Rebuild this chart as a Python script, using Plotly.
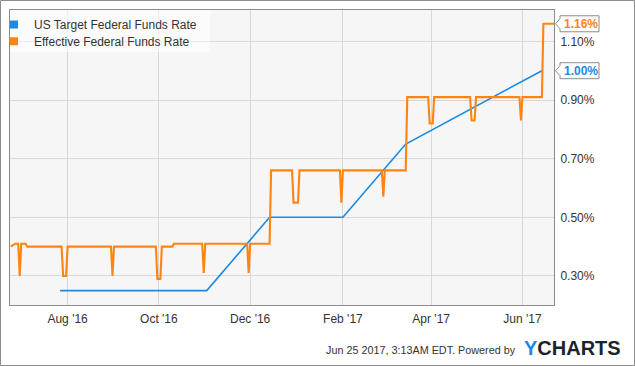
import plotly.graph_objects as go

# ---------------- data ----------------
target_dates = ["2016-07-27", "2016-09-21", "2016-11-02", "2016-12-14",
                "2017-02-01", "2017-03-15", "2017-06-14"]
target_values = [0.25, 0.25, 0.25, 0.50, 0.50, 0.75, 1.00]

effective_dates = [
    "2016-06-24", "2016-06-27", "2016-06-29", "2016-06-30", "2016-07-01",
    "2016-07-04", "2016-07-05", "2016-07-28", "2016-07-29", "2016-07-31",
    "2016-08-01", "2016-08-30", "2016-08-31", "2016-09-01", "2016-09-29",
    "2016-09-30", "2016-10-02", "2016-10-03", "2016-10-10", "2016-10-11",
    "2016-10-30", "2016-10-31", "2016-11-01", "2016-11-29", "2016-11-30",
    "2016-12-01", "2016-12-14", "2016-12-15", "2016-12-29", "2016-12-30",
    "2017-01-02", "2017-01-03", "2017-01-30", "2017-01-31", "2017-02-01",
    "2017-02-27", "2017-02-28", "2017-03-01", "2017-03-15", "2017-03-16",
    "2017-03-30", "2017-03-31", "2017-04-02", "2017-04-03", "2017-04-27",
    "2017-04-28", "2017-04-30", "2017-05-01", "2017-05-30", "2017-05-31",
    "2017-06-01", "2017-06-14", "2017-06-15", "2017-06-22",
]
effective_values = [
    0.40, 0.41, 0.41, 0.30, 0.41,
    0.41, 0.40, 0.40, 0.30, 0.30,
    0.40, 0.40, 0.30, 0.40, 0.40,
    0.29, 0.29, 0.40, 0.40, 0.41,
    0.41, 0.31, 0.41, 0.41, 0.31,
    0.41, 0.41, 0.66, 0.66, 0.55,
    0.55, 0.66, 0.66, 0.55, 0.66,
    0.66, 0.57, 0.66, 0.66, 0.91,
    0.91, 0.82, 0.82, 0.91, 0.91,
    0.83, 0.83, 0.91, 0.91, 0.83,
    0.91, 0.91, 1.16, 1.16,
]

series_names = ["US Target Federal Funds Rate", "Effective Federal Funds Rate"]
series_colors = ["#1a8ae5", "#ff8412"]

x_tick_vals = ["2016-08-01", "2016-10-01", "2016-12-01", "2017-02-01",
               "2017-04-01", "2017-06-01"]
x_tick_text = ["Aug '16", "Oct '16", "Dec '16", "Feb '17", "Apr '17", "Jun '17"]
y_tick_vals = [0.30, 0.50, 0.70, 0.90, 1.10]
y_tick_text = ["0.30%", "0.50%", "0.70%", "0.90%", "1.10%"]

x_range = ["2016-06-23 12:00", "2017-06-22 02:00"]
y_range = [0.201, 1.207]

footer_text = "Jun 25 2017, 3:13AM EDT. Powered by"

# ---------------- figure ----------------
W, H = 635, 366
L, R, T, B = 10, 81, 10, 61
PW, PH = W - L - R, H - T - B

FONT = "Liberation Sans, Arial, sans-serif"
TXT = "#333333"

fig = go.Figure()

fig.add_trace(go.Scatter(
    x=target_dates, y=target_values, mode="lines",
    line=dict(color=series_colors[0], width=1.6),
    showlegend=False, hoverinfo="skip"))
fig.add_trace(go.Scatter(
    x=effective_dates, y=effective_values, mode="lines",
    line=dict(color=series_colors[1], width=2.1),
    showlegend=False, hoverinfo="skip"))

# legend proxies (square swatches)
for i, (nm, col) in enumerate(zip(series_names, series_colors)):
    fig.add_trace(go.Scatter(
        x=[None], y=[None], mode="markers", name=nm,
        marker=dict(symbol="square", size=8, color=col),
        legend="legend" if i == 0 else "legend2"))

shapes = []
annotations = []

# outer border of the image
shapes.append(dict(type="rect", xref="paper", yref="paper",
                   x0=(0.5 - L) / PW, x1=(W - 0.5 - L) / PW,
                   y0=(T + PH - (H - 0.5)) / PH, y1=(T + PH - 0.5) / PH,
                   line=dict(color="#8c8c8c", width=1), fillcolor="rgba(0,0,0,0)",
                   layer="above"))
# translucent legend background
shapes.append(dict(type="rect", xref="paper", yref="paper",
                   x0=0, x1=200 / PW, y0=1 - 42 / PH, y1=1,
                   line=dict(width=0), fillcolor="rgba(255,255,255,0.55)",
                   layer="above"))

# end-value tags
last_vals = [target_values[-1], effective_values[-1]]
for val, col in zip(last_vals, series_colors):
    shapes.append(dict(type="path", xref="paper", yref="y",
                       xsizemode="pixel", ysizemode="pixel",
                       xanchor=1, yanchor=val,
                       path="M 1.5,0 L 6,5 L 6,8 L 45,8 L 45,-8 L 6,-8 L 6,-5 Z",
                       line=dict(color="#8c8c8c", width=1), fillcolor="white",
                       layer="above"))
    annotations.append(dict(xref="paper", yref="y", x=1, y=val,
                            xanchor="left", yanchor="middle", xshift=8,
                            text="<b>%.2f%%</b>" % val, showarrow=False,
                            font=dict(family=FONT, size=12, color=col)))

# footer
annotations.append(dict(xref="paper", yref="paper",
                        x=(518 - L) / PW, y=(T + PH - 350) / PH,
                        xanchor="right", yanchor="middle", showarrow=False,
                        text=footer_text,
                        font=dict(family=FONT, size=10.8, color=TXT)))
annotations.append(dict(xref="paper", yref="paper",
                        x=(522 - L) / PW, y=(T + PH - 348) / PH,
                        xanchor="left", yanchor="middle", showarrow=False,
                        text="<b><span style='color:#1a8ae5'>Y</span>CHARTS</b>",
                        font=dict(family=FONT, size=20, color="#1c2330")))

LEG_X = -16 / PW
fig.update_layout(
    width=W, height=H,
    margin=dict(l=L, r=R, t=T, b=B, pad=0, autoexpand=False),
    paper_bgcolor="white", plot_bgcolor="#f6f6f6",
    font=dict(family=FONT, size=12, color=TXT),
    showlegend=True,
    legend=dict(x=LEG_X, y=1, xanchor="left", yanchor="top",
                bgcolor="rgba(0,0,0,0)", borderwidth=0,
                font=dict(family=FONT, size=12, color=TXT)),
    legend2=dict(x=LEG_X, y=1 - 16.7 / PH, xanchor="left", yanchor="top",
                 bgcolor="rgba(0,0,0,0)", borderwidth=0,
                 font=dict(family=FONT, size=12, color=TXT)),
    xaxis=dict(type="date", range=x_range, tickvals=x_tick_vals,
               ticktext=x_tick_text, showgrid=True, gridcolor="#d8d8d8",
               gridwidth=1, zeroline=False, showline=True, linecolor="#8c8c8c",
               linewidth=1, mirror=True, ticks="", fixedrange=True,
               ticklabelstandoff=3,
               tickfont=dict(family=FONT, size=12, color=TXT)),
    yaxis=dict(range=y_range, side="right", tickvals=y_tick_vals,
               ticktext=y_tick_text, showgrid=True, gridcolor="#d8d8d8",
               gridwidth=1, zeroline=False, showline=True, linecolor="#8c8c8c",
               linewidth=1, mirror=True, ticks="", fixedrange=True,
               ticklabelstandoff=3,
               tickfont=dict(family=FONT, size=12, color=TXT)),
    shapes=shapes, annotations=annotations,
)

fig.write_html("out.html", config={"displayModeBar": False},
               post_script="document.body.style.margin='0';")
